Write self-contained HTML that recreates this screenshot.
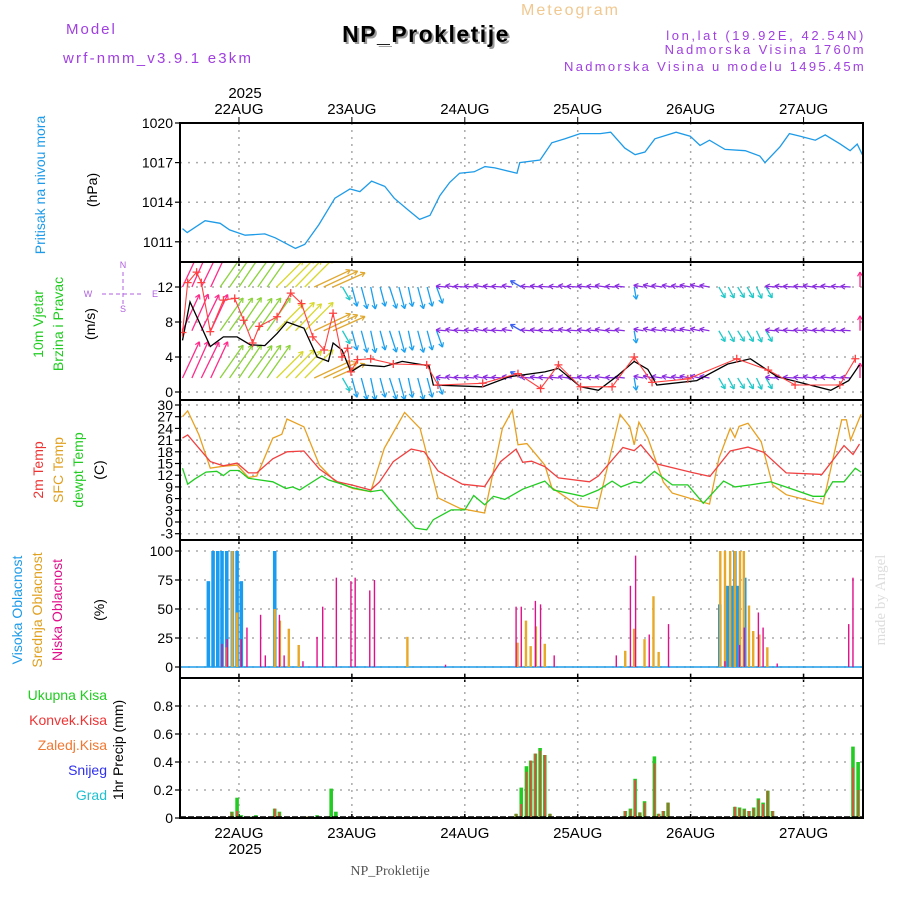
<!DOCTYPE html>
<html><head><meta charset="utf-8"><style>
html,body{margin:0;padding:0;background:#fff;}
svg{display:block;font-family:"Liberation Sans",sans-serif;}
</style></head><body>
<svg id="c" width="900" height="900" viewBox="0 0 900 900" xmlns="http://www.w3.org/2000/svg">
<defs>
<clipPath id="cp1"><rect x="180" y="123" width="683" height="139"/></clipPath>
<clipPath id="cp2"><rect x="180" y="262" width="683" height="138"/></clipPath>
<clipPath id="cp3"><rect x="180" y="400" width="683" height="140"/></clipPath>
<clipPath id="cp4"><rect x="180" y="540" width="683" height="138"/></clipPath>
<clipPath id="cp5"><rect x="180" y="678" width="683" height="140"/></clipPath>
</defs>
<!-- header -->
<text x="66" y="34" font-size="15" fill="#a040e0" letter-spacing="2">Model</text>
<text x="63" y="63" font-size="15" fill="#a040e0" letter-spacing="2.2">wrf-nmm_v3.9.1 e3km</text>
<text x="521" y="15" font-size="16" fill="#f0c890" letter-spacing="2">Meteogram</text>
<text x="428" y="44" font-size="23" font-weight="bold" fill="#999" text-anchor="middle" letter-spacing="1.5">NP_Prokletije</text>
<text x="426" y="42" font-size="23" font-weight="bold" fill="#000" text-anchor="middle" letter-spacing="1.5">NP_Prokletije</text>
<text x="866" y="40" font-size="13" fill="#a040e0" text-anchor="end" letter-spacing="2.6">lon,lat (19.92E, 42.54N)</text>
<text x="866" y="54" font-size="13" fill="#a040e0" text-anchor="end" letter-spacing="2.4">Nadmorska Visina 1760m</text>
<text x="866" y="71" font-size="13" fill="#a040e0" text-anchor="end" letter-spacing="2.3">Nadmorska Visina u modelu 1495.45m</text>
<text x="245" y="98" font-size="15" fill="#000" text-anchor="middle">2025</text>
<text x="245" y="854" font-size="15" fill="#000" text-anchor="middle">2025</text>
<text x="390" y="875" font-size="14" fill="#555" text-anchor="middle" font-family="Liberation Serif, serif">NP_Prokletije</text>
<text transform="translate(885,600) rotate(-90)" font-size="15" fill="#ddd" text-anchor="middle" font-family="Liberation Serif, serif">made by Angel</text>
<!-- left labels -->
<text transform="translate(45,185) rotate(-90)" font-size="14" fill="#1e9be8" text-anchor="middle">Pritisak na nivou mora</text>
<text transform="translate(97,190) rotate(-90)" font-size="14" fill="#000" text-anchor="middle">(hPa)</text>
<text transform="translate(43,324) rotate(-90)" font-size="14" fill="#22cc22" text-anchor="middle">10m Vjetar</text>
<text transform="translate(63,324) rotate(-90)" font-size="14" fill="#22cc22" text-anchor="middle">Brzina i Pravac</text>
<text transform="translate(95,324) rotate(-90)" font-size="14" fill="#000" text-anchor="middle">(m/s)</text>
<g fill="#b060e0" font-size="9" text-anchor="middle">
<text x="123" y="268">N</text><text x="123" y="312">S</text><text x="88" y="297">W</text><text x="155" y="297">E</text>
<line x1="123" y1="272" x2="123" y2="304" stroke="#b060e0" stroke-dasharray="4,3"/>
<line x1="102" y1="294" x2="144" y2="294" stroke="#b060e0" stroke-dasharray="4,3"/>
</g>
<text transform="translate(43,470) rotate(-90)" font-size="14" fill="#ee3333" text-anchor="middle">2m Temp</text>
<text transform="translate(63,470) rotate(-90)" font-size="14" fill="#e0a020" text-anchor="middle">SFC Temp</text>
<text transform="translate(83,470) rotate(-90)" font-size="14" fill="#22cc22" text-anchor="middle">dewpt Temp</text>
<text transform="translate(104,470) rotate(-90)" font-size="14" fill="#000" text-anchor="middle">(C)</text>
<text transform="translate(22,610) rotate(-90)" font-size="14" fill="#1e9be8" text-anchor="middle">Visoka Oblacnost</text>
<text transform="translate(42,610) rotate(-90)" font-size="14" fill="#e0a020" text-anchor="middle">Srednja Oblacnost</text>
<text transform="translate(62,610) rotate(-90)" font-size="14" fill="#e0108a" text-anchor="middle">Niska Oblacnost</text>
<text transform="translate(104,610) rotate(-90)" font-size="14" fill="#000" text-anchor="middle">(%)</text>
<g font-size="14" text-anchor="end">
<text x="107" y="700" fill="#22cc22">Ukupna Kisa</text>
<text x="107" y="725" fill="#ee3333">Konvek.Kisa</text>
<text x="107" y="750" fill="#f07830">Zaledj.Kisa</text>
<text x="107" y="775" fill="#3030ee">Snijeg</text>
<text x="107" y="800" fill="#20c0d0">Grad</text>
</g>
<text transform="translate(123,750) rotate(-90)" font-size="14" fill="#000" text-anchor="middle">1hr Precip (mm)</text>
<g id="plot"></g>
</svg>
<script>
// ---- data (hours since 21AUG 12Z) ----
const dayLabels=["22AUG","23AUG","24AUG","25AUG","26AUG","27AUG"];
const pHours=[0,1,4.8,8,10,13.3,17.5,19.7,24,26,29,32.4,35.6,37.7,40.2,43,45,48,50.4,52.6,54.7,56.8,58.9,62,64.3,66.4,71.1,71.7,76,78.5,81.3,84.5,88.8,91,94,96.2,98.3,100.4,104.9,107.9,110,112,115.3,119.6,122.7,123.8,127,129,131.3,134.5,136.6,139.8,141.9,143.4,144.5];
const pVals=[1012.0,1011.7,1012.6,1012.4,1011.9,1011.5,1011.6,1011.3,1010.5,1010.8,1012.3,1014.3,1015.0,1014.8,1015.6,1015.2,1014.3,1013.4,1012.7,1013.0,1014.5,1015.5,1016.2,1016.3,1016.7,1016.6,1016.2,1017.0,1017.2,1018.5,1018.8,1019.2,1019.2,1019.3,1018.1,1017.6,1017.8,1018.8,1019.3,1019.0,1018.3,1018.7,1018.0,1017.9,1017.5,1017.0,1018.2,1019.2,1019.0,1018.7,1019.1,1018.4,1017.9,1018.4,1017.6];
const spdHours=[0,1.6,5.9,8.7,11.6,14.4,17.5,20.1,22.2,25.8,28.6,31,32,33.9,35.8,38.1,42.9,46.7,52.4,53.3,63.8,69.5,77,79.9,84.6,88.4,92.2,96,98.9,100.8,109.3,115.9,120.7,126.4,137.8,141.6,143.9];
const spdVals=[5.9,10.3,5.2,6.3,6.3,5.4,5.3,6.7,8.0,7.3,4.0,3.5,5.6,4.8,2.3,3.1,2.9,3.5,3.0,0.8,0.6,1.75,2.3,2.7,0.6,0.2,1.75,3.5,2.6,0.8,1.3,3.2,3.8,1.75,0.2,1.3,3.1];
const gustHours=[0,1.1,3,4,5.9,8.7,11.1,13,14.9,16.3,20.1,23,25.3,27.7,30.1,32,33.9,35.1,35.8,37.2,40,44.8,51.9,54.3,63.8,71.3,76.1,79.9,84.6,91.3,96,99.8,107.4,117.8,124.5,130.2,139.7,143];
const gustVals=[6.8,12.5,13.7,12.5,6.9,10.5,10.7,8.2,5.6,7.5,8.6,11.3,10.1,6.3,4.8,9.0,4.0,5.0,2.3,3.7,3.8,3.2,3.1,0.8,1.0,2.1,0.4,3.1,0.6,0.6,4.0,1.1,1.5,3.8,2.5,0.8,0.8,3.8];
// wind arrows every 2 h: direction the arrow points (deg, 0=E, 90=N) and speed (m/s)
const windAng=[65,66,64,65,55,55,56,54,55,55,45,45,46,45,25,25,24,-60,-75,-75,-78,-75,-72,-75,-78,-75,-75,-70,175,172,176,175,170,174,176,172,150,175,174,176,175,172,176,174,175,172,176,174,-80,170,168,172,170,172,170,168,170,-60,-62,-58,-60,-65,-60,175,174,176,175,172,176,174,175,176,90];
const windSpd=[11,11.5,11,10,8,8.5,8,8.5,8,8,7.5,8,7.5,8,8,7.5,7,3,4,4.5,4.5,4,4.5,4.5,4,4.5,4,3.5,2,2,2.2,2,2,2,2.2,2,2.5,2,2,2.2,2,2,2.2,2,2,2.2,2,2,2.5,2,2,2.2,2,2,2.2,2,2,2.5,2.5,2.5,2.5,2.5,2.5,2,2,2.2,2,2,2,2.2,2,2,3];
const tHours=[0,1.1,5.9,8.7,11.6,14,15.8,19.2,22.2,25.8,29.1,32.9,36.2,40,41.9,44.8,48.6,51.4,54.3,59.5,64.2,67.6,70.9,72.3,74.2,77,79.9,86.5,88.4,93.6,96,97.4,100.8,108.3,112.1,116.4,120.2,123.5,128.3,135.9,140.6,142.5,143.9];
const t2mVals=[21.5,22.3,15.5,14.4,15.1,12.6,12.6,16.2,18.0,18.2,13.6,10.3,9.4,8.2,10.3,15.5,18.7,18.0,13.1,9.7,9.1,15.5,18.7,15.3,15.6,14.2,11.3,10.3,11.8,19.1,18.3,19.8,14.9,12.7,11.7,18.2,19.2,17.9,12.6,12.2,19.6,17.3,20.0];
const sfcHours=[0,1.1,3.5,5.9,8.7,11.6,14,15.8,19.2,21.1,22.2,25.8,29.1,32.4,36.2,40,42.9,47.2,50.5,54.3,59,64.2,68,70.1,71.3,73.2,77,78.5,84.2,88.2,93,95.1,96,97,98.9,102.2,104.1,112,114,116.4,117.4,118.3,120.2,123,125.4,128.3,136.1,140.1,141.1,142,143,144.2];
const sfcVals=[27,28.5,22.3,13.8,14.3,14.6,11.4,11.8,21.5,22.5,26.4,24.4,14.6,10.5,8.6,7.8,18.9,28.1,24,6.2,3.5,2.3,24,28.7,19.8,20.1,14.6,8.8,4.1,3.5,27.6,24.4,19.8,25.6,21.6,10.2,7.4,4.6,16.3,24,21.7,24.5,25.3,20.6,9.5,7,4.6,26.2,26.2,21,24,27.6];
const dewHours=[0,1.1,2.6,5,7.3,8.7,10.1,12,14,19.2,22,23.4,24.9,29.6,31,33.4,36.2,40,42.4,45.7,49.5,51.9,53.3,57.1,60,61.9,64.2,66.1,68.5,72.3,77,78.9,85.1,88.4,91.3,93.2,96,97.4,100.3,104.1,107.4,110.7,115,117.4,120.7,125,129.2,134,136.3,138.2,140.6,143,144.2];
const dewVals=[13.8,9.7,11,12.8,13,11.9,13.2,13.2,11.2,10.3,8.6,9,8.2,11.8,10.8,9.9,8.8,7.8,8.2,3.5,-1.6,-2,0.6,3.1,3.1,6.8,4.4,6.6,5.8,8.4,10.5,8.2,6.6,8.2,10.5,9,10.3,10,13,9.5,9.5,4.8,10.5,9,9.5,10.3,8.6,6.6,6.6,10.3,10.3,13.8,12.8];
const highHours=[5.5,6.5,7.5,8.4,9.4,10.6,11.6,12.5,19.6,114.2,115.9,116.7,117.4,118.1,119.5];
const highVals=[74,100,100,100,100,100,100,74,100,54,70,70,100,70,77];
const midHours=[9.4,10.6,11.6,19.6,20.7,22.6,24.7,47.8,71.2,73,74,75.1,77,94.1,96,98.2,100.1,101.2,114.3,115.3,116.4,117.4,118.5,119.3,120.4,121.3,122.6,124.3];
const midVals=[17,100,47,50,40,33,19,26,21,40,18,35,20,14,33,24,61,13,100,100,100,100,100,100,53,31,28,17];
const lowHours=[8.4,9.5,12.5,13.7,16.6,17.6,20.6,21.6,25.6,28.6,29.8,32.7,35.8,36.7,39.8,40.8,55.9,70.9,72,75,76.1,79,92.2,95.2,96.3,99.2,103.3,115.3,118.4,119.4,122.4,123.4,126.4,141.6,142.5];
const lowVals=[20,24,24,34,45,10,45,10,5,26,52,77,74,77,66,75,2,52,52,57,54,10,10,70,96,28,37,5,19,34,47,34,3,37,77];
const prHours=[10.5,11.6,12.5,14.4,15.6,19.6,20.6,26.6,28.6,31.6,32.6,70.9,72,73.1,74,75,76,77,78.1,94.1,95.2,96.2,97.2,98.2,99.1,100.3,101.2,102.2,103.2,117.4,118.4,119.4,120.4,121.4,122.4,123.4,124.4,125.4,141.5,142.5,143.6];
const prTotal=[0.045,0.145,0.02,0.01,0.02,0.067,0.045,0.01,0.02,0.21,0.045,0.03,0.217,0.37,0.41,0.46,0.5,0.45,0.03,0.05,0.067,0.28,0.04,0.12,0.01,0.44,0.03,0.05,0.11,0.08,0.075,0.067,0.05,0.075,0.14,0.11,0.195,0.05,0.01,0.51,0.40];
const prConv=[0.04,0.05,0,0,0,0.067,0.04,0.01,0,0,0,0.03,0.1,0.33,0.41,0.46,0.48,0.45,0.03,0.05,0.06,0.27,0.04,0.11,0,0.39,0.03,0.05,0.11,0.08,0.07,0.06,0.05,0.07,0.13,0.1,0.195,0.05,0,0.36,0.2];

const NS="http://www.w3.org/2000/svg";
const plot=document.getElementById('plot');
function el(tag,attrs,parent){const e=document.createElementNS(NS,tag);for(const k in attrs)e.setAttribute(k,attrs[k]);(parent||plot).appendChild(e);return e;}
const X=h=>182.5+h*4.705;
const L=180,R=863;
const panels=[
 {top:123,bot:262,y:v=>123+(1020-v)*13.2,ticks:[1011,1014,1017,1020],fmt:v=>v,name:'pressure'},
 {top:262,bot:400,y:v=>392-v*8.75,ticks:[0,4,8,12],fmt:v=>v,name:'wind'},
 {top:400,bot:540,y:v=>522-v*3.9,ticks:[-3,0,3,6,9,12,15,18,21,24,27,30],fmt:v=>v,name:'temp'},
 {top:540,bot:678,y:v=>667-v*1.16,ticks:[0,25,50,75,100],fmt:v=>v,name:'cloud'},
 {top:678,bot:818,y:v=>818-v*140,ticks:[0,0.2,0.4,0.6,0.8],fmt:v=>v===0?'0':v.toFixed(1),name:'precip'}
];
panels.forEach((p,i)=>{
  const g=el('g',{});
  
  
  dayLabels.forEach((d,k)=>{const x=X(12+24*k);el('line',{x1:x,y1:p.top,x2:x,y2:p.bot,stroke:'#aaa','stroke-dasharray':'2,5','stroke-width':1.5},g);
    el('line',{x1:x,y1:p.bot-4,x2:x,y2:p.bot+(i<4?4:0),stroke:'#000','stroke-width':1.5},g);});
  p.ticks.forEach(t=>{const y=p.y(t);
    el('line',{x1:L,y1:y,x2:R,y2:y,stroke:'#aaa','stroke-dasharray':'2,6','stroke-width':1.5},g);
    el('line',{x1:L-5,y1:y,x2:L,y2:y,stroke:'#000','stroke-width':1.2},g);
    const tx=el('text',{x:L-7,y:y+5,'font-size':14,'text-anchor':'end',fill:'#000'},g);tx.textContent=p.fmt(t);
    
    
  });
});
dayLabels.forEach((d,k)=>{const x=X(12+24*k);
  const a=el('text',{x:x,y:114,'font-size':15,'text-anchor':'middle'});a.textContent=d;
  
  
  const b=el('text',{x:x,y:838,'font-size':15,'text-anchor':'middle'});b.textContent=d;
  
  
  el('line',{x1:x,y1:117,x2:x,y2:123,stroke:'#000'});
});
function line(hs,vs,p,color,clip,name,w){
  const d=hs.map((h,i)=>(i?'L':'M')+X(h).toFixed(1)+','+p.y(vs[i]).toFixed(1)).join('');
  const e=el('path',{d:d,fill:'none',stroke:color,'stroke-width':w||1.3,'clip-path':'url(#'+clip+')'});
  
  
  return e;
}
line(pHours,pVals,panels[0],'#1e9be8','cp1','pressure-line');
function windColor(a){if(a>60&&a<=90)return '#ff2a8a';if(a>50&&a<=60)return '#8cd23c';if(a>35&&a<=50)return '#d8d830';if(a>=0&&a<=35)return '#e0a830';if(a<0&&a>-68)return '#20c8c8';if(a<0)return '#1aa0f0';if(a>160)return '#8a2be2';return '#3a60f0';}
const wg=el('g',{'clip-path':'url(#cp2)'});


[12,7,1.6].forEach((lev,r)=>{
  windAng.forEach((a,i)=>{
    const h=i*2, x0=X(h), y0=panels[1].y(lev);
    const len=Math.min(windSpd[i]*5,40), rad=a*Math.PI/180;
    const x1=x0+len*Math.cos(rad), y1=y0-len*Math.sin(rad);
    const c=windColor(a);
    el('line',{x1:x0,y1:y0,x2:x1,y2:y1,stroke:c,'stroke-width':1.3},wg);
    const hl=5;
    [150,-150].forEach(o=>{const ar=(a+o)*Math.PI/180;el('line',{x1:x1,y1:y1,x2:x1+hl*Math.cos(ar),y2:y1-hl*Math.sin(ar),stroke:c,'stroke-width':1.2},wg);});
  });
});
line(spdHours,spdVals,panels[1],'#000','cp2','wind-speed-line',1.3);
line(gustHours,gustVals,panels[1],'#ff4040','cp2','wind-gust-line',1.1);
gustHours.forEach((h,i)=>{const x=X(h),y=panels[1].y(gustVals[i]);
  const m=el('path',{d:`M${x-4},${y}H${x+4}M${x},${y-4}V${y+4}`,stroke:'#ff4040','stroke-width':1.3,'clip-path':'url(#cp2)'});
  
  
});
line(sfcHours,sfcVals,panels[2],'#e8a020','cp3','sfc-temp-line');
line(tHours,t2mVals,panels[2],'#f04040','cp3','temp-2m-line');
line(dewHours,dewVals,panels[2],'#22cc22','cp3','dewpoint-line');
function bars(hs,vs,p,color,w,off,clip,name){
  hs.forEach((h,i)=>{const y=p.y(vs[i]);
    const b=el('rect',{x:X(h)+off,y:y,width:w,height:p.y(0)-y,fill:color,'clip-path':'url(#'+clip+')'});
    
    
  });
}
el('line',{x1:L,y1:667,x2:R,y2:667,stroke:'#1e9be8','stroke-width':1.5});
bars(highHours,highVals,panels[3],'#1a9cf0',3.6,-1.8,'cp4','high-cloud-bar');
bars(midHours,midVals,panels[3],'#e8a828',2.4,-1.2,'cp4','mid-cloud-bar');
bars(lowHours,lowVals,panels[3],'#e0108a',1.4,-0.7,'cp4','low-cloud-bar');
bars(prHours,prTotal,panels[4],'#22cc22',3.6,-1.8,'cp5','total-precip-bar');
bars(prHours,prConv,panels[4],'#f04040',1.6,-0.8,'cp5','convective-precip-bar');
el('line',{x1:L,y1:817,x2:R,y2:817,stroke:'#000','stroke-width':1.5,'stroke-dasharray':'6,2'});
panels.forEach(p=>{const f=el('rect',{x:L,y:p.top,width:R-L,height:p.bot-p.top,fill:'none',stroke:'#000','stroke-width':2});
  
  });
</script>
</body></html>
